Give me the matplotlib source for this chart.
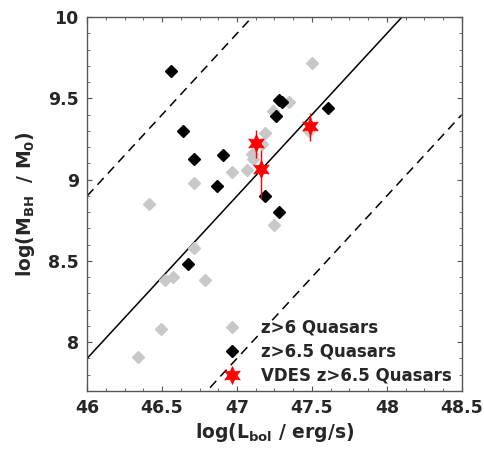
import numpy as np
import matplotlib
matplotlib.use("Agg")
import matplotlib.pyplot as plt
from matplotlib.ticker import MultipleLocator

plt.rcParams['font.family'] = ['DejaVu Sans']
plt.rcParams['mathtext.default'] = 'regular'

# z>6 quasars (gray)
z6_L = [46.34, 46.49, 46.52, 46.57, 46.79, 46.41, 46.71, 46.71, 46.97, 47.07,
        47.10, 47.11, 47.17, 47.19, 47.24, 47.35, 47.25, 47.48, 47.50]
z6_M = [7.91, 8.08, 8.38, 8.40, 8.38, 8.85, 8.58, 8.98, 9.05, 9.06,
        9.16, 9.13, 9.22, 9.29, 9.42, 9.48, 8.72, 9.30, 9.72]

# z>6.5 quasars (black)
z65_L = [46.56, 46.64, 46.71, 46.91, 46.87, 46.67, 47.19, 47.28, 47.26, 47.28, 47.30, 47.61]
z65_M = [9.67, 9.30, 9.13, 9.15, 8.96, 8.48, 8.90, 8.80, 9.39, 9.49, 9.48, 9.44]

# VDES z>6.5 quasars (red)
vdes_L = [47.13, 47.16, 47.49]
vdes_M = [9.225, 9.065, 9.33]
vdes_err_lo = [0.09, 0.18, 0.09]
vdes_err_hi = [0.08, 0.12, 0.08]

# Eddington ratio lines: log M = log L - offset
line_offsets = [37.1, 38.1, 39.1]
line_styles = ['--', '-', '--']

xlim = (46, 48.5)
ylim = (7.7, 10)

fig = plt.figure(figsize=(4.84, 4.54), dpi=100)
ax = fig.add_axes([0.180, 0.139, 0.774, 0.823])

xs = np.array(xlim)
for off, ls in zip(line_offsets, line_styles):
    ax.plot(xs, xs - off, color='black', lw=1.1, ls=ls,
            dashes=(6, 4) if ls == '--' else (None, None), zorder=1)

ax.plot(z6_L, z6_M, 'D', ms=5.8, color='#c8c8c8', mec='#c8c8c8', mew=1.0,
        label='z>6 Quasars', zorder=2)
ax.plot(z65_L, z65_M, 'D', ms=5.8, color='black', mec='black', mew=1.0,
        label='z>6.5 Quasars', zorder=3)
ax.errorbar(vdes_L, vdes_M, yerr=[vdes_err_lo, vdes_err_hi], fmt='none',
            ecolor='red', elinewidth=1.0, capsize=0, zorder=4)
ax.plot(vdes_L, vdes_M, marker=(6, 1, 0), ls='none', ms=13, color='red',
        mec='red', mew=0.5, label='VDES z>6.5 Quasars', zorder=5)

ax.set_xlim(*xlim)
ax.set_ylim(*ylim)
ax.xaxis.set_minor_locator(MultipleLocator(0.125))
ax.yaxis.set_minor_locator(MultipleLocator(0.1))
ax.set_xticks([46, 46.5, 47, 47.5, 48, 48.5])
ax.set_xticklabels(['46', '46.5', '47', '47.5', '48', '48.5'])
ax.set_yticks([8, 8.5, 9, 9.5, 10])
ax.set_yticklabels(['8', '8.5', '9', '9.5', '10'])

axcol = '#555555'
for sp in ax.spines.values():
    sp.set_color(axcol)
    sp.set_linewidth(1.0)
ax.tick_params(which='both', direction='in', top=True, right=True, color=axcol)
ax.tick_params(which='major', length=3.5, width=0.8, labelsize=12.5,
               labelcolor='#262626', pad=6)
ax.tick_params(which='minor', length=2.2, width=0.6)
for lab in ax.get_xticklabels() + ax.get_yticklabels():
    lab.set_fontweight('bold')

ax.set_xlabel(r'log(L$_{bol}$ / erg/s)', fontsize=13.5, fontweight='bold',
              color='#262626', labelpad=3)
ax.set_ylabel(r'log(M$_{BH}$  / M$_{0}$)', fontsize=13.5, fontweight='bold',
              color='#262626', labelpad=8)

leg = ax.legend(loc='lower right', bbox_to_anchor=(0.977, 0.013), frameon=False,
                prop={'weight': 'bold', 'size': 12},
                handlelength=1.0, handletextpad=1.2, labelspacing=0.36,
                borderaxespad=0.0, borderpad=0.1)
for t in leg.get_texts():
    t.set_color('#262626')

fig.savefig('out.png', dpi=100)
